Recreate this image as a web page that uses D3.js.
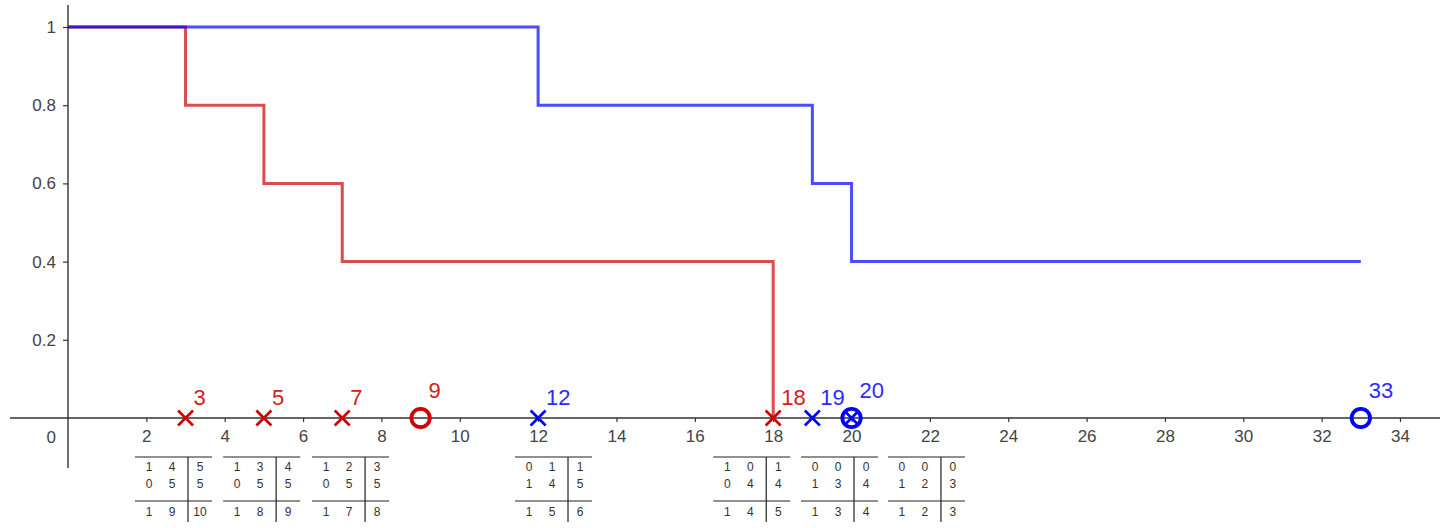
<!DOCTYPE html>
<html><head><meta charset="utf-8">
<script src="https://cdn.jsdelivr.net/npm/d3@7"></script>
<style>html,body{margin:0;padding:0;background:#fff;}svg{display:block;}</style>
</head><body>
<svg id="chart" width="1446" height="528"></svg>
<script>
// ---- data ----
const xTicks = [2,4,6,8,10,12,14,16,18,20,22,24,26,28,30,32,34];
const yTicks = [0.2,0.4,0.6,0.8,1];
const redStepTimes = [0,3,5,7,18];
const redStepSurv = [1,0.8,0.6,0.4,0];
const redEnd = 18;
const blueStepTimes = [0,12,19,20];
const blueStepSurv = [1,0.8,0.6,0.4];
const blueEnd = 33;
const redEvents = [3,5,7,18];
const redCensored = [9];
const blueEvents = [12,19,20];
const blueCensored = [20,33];
const redLabels = [3,5,7,9,18];
const blueLabels = [12,19,20,33];
const tableTimes = [3,5,7,12,18,19,20];
const tableValues = [
  [[1,4,5],[0,5,5],[1,9,10]],
  [[1,3,4],[0,5,5],[1,8,9]],
  [[1,2,3],[0,5,5],[1,7,8]],
  [[0,1,1],[1,4,5],[1,5,6]],
  [[1,0,1],[0,4,4],[1,4,5]],
  [[0,0,0],[1,3,4],[1,3,4]],
  [[0,0,0],[1,2,3],[1,2,3]]
];

// ---- layout ----
const svg = d3.select("#chart");
const x = d3.scaleLinear().domain([0,34]).range([68, 1400]);
const y = d3.scaleLinear().domain([0,1]).range([418, 27]);
const RED = "rgba(204,0,0,0.7)", BLUE = "rgba(0,0,255,0.7)";
const RED_T = "#d42020", BLUE_T = "#2b2bff";
const AX = "#333";
const font = "Liberation Sans, Arial, sans-serif";
// table left edges in data units (layout)
const tableLeft = [1.71, 3.96, 6.23, 11.41, 16.47, 18.71, 20.93];

// axes lines
svg.append("line").attr("x1",10).attr("x2",1440).attr("y1",y(0)).attr("y2",y(0))
  .attr("stroke",AX).attr("stroke-width",1.4);
svg.append("line").attr("x1",x(0)).attr("x2",x(0)).attr("y1",5).attr("y2",468)
  .attr("stroke",AX).attr("stroke-width",1.4);

// x axis ticks
const xAxis = d3.axisBottom(x).tickValues(xTicks).tickSize(4).tickPadding(8).tickFormat(d3.format("d"));
const gx = svg.append("g").attr("transform",`translate(0,${y(0)})`).call(xAxis);
gx.select(".domain").remove();
gx.selectAll(".tick line").attr("stroke",AX).attr("stroke-width",1.2);
gx.selectAll(".tick text").attr("fill","#444").style("font-family",font).style("font-size","17px");

const yAxis = d3.axisLeft(y).tickValues(yTicks).tickSize(5).tickPadding(7).tickFormat(d => d3.format("")(d));
const gy = svg.append("g").attr("transform",`translate(${x(0)},0)`).call(yAxis);
gy.select(".domain").remove();
gy.selectAll(".tick line").attr("stroke",AX).attr("stroke-width",1.2);
gy.selectAll(".tick text").attr("fill","#444").style("font-family",font).style("font-size","17px");

svg.append("text").attr("x",x(0)-12).attr("y",y(0)+25).attr("text-anchor","end")
  .attr("fill","#444").style("font-family",font).style("font-size","17px").text("0");

// step lines
const line = d3.line().x(d=>x(d[0])).y(d=>y(d[1])).curve(d3.curveStepAfter);
function stepPts(times, surv, end){
  const pts = times.map((t,i)=>[t,surv[i]]);
  pts.push([end, surv[surv.length-1]]);
  return pts;
}
svg.append("path").datum(stepPts(redStepTimes,redStepSurv,redEnd)).attr("d",line)
  .attr("fill","none").attr("stroke",RED).attr("stroke-width",3);
svg.append("path").datum(stepPts(blueStepTimes,blueStepSurv,blueEnd)).attr("d",line)
  .attr("fill","none").attr("stroke",BLUE).attr("stroke-width",3);

// markers
function crosses(data, color){
  const g = svg.append("g");
  data.forEach(t=>{
    const cx = x(t), cy = y(0), s = 7.5;
    g.append("line").attr("x1",cx-s).attr("y1",cy-s).attr("x2",cx+s).attr("y2",cy+s)
      .attr("stroke",color).attr("stroke-width",2.6);
    g.append("line").attr("x1",cx-s).attr("y1",cy+s).attr("x2",cx+s).attr("y2",cy-s)
      .attr("stroke",color).attr("stroke-width",2.6);
  });
}
function circles(data, color){
  svg.append("g").selectAll("circle").data(data).join("circle")
    .attr("cx",d=>x(d)).attr("cy",y(0)).attr("r",9.2)
    .attr("fill","none").attr("stroke",color).attr("stroke-width",3.8);
}
crosses(redEvents, "#d00000");
circles(redCensored, "#d00000");
crosses(blueEvents, "#0000ff");
circles(blueCensored, "#0000ff");

function labels(data, censored, color){
  svg.append("g").selectAll("text").data(data).join("text")
    .attr("x",d=>x(d)+8).attr("y",d=>y(0)+(censored.includes(d)?-20:-13))
    .attr("fill",color).style("font-family",font).style("font-size","22px").text(d=>d);
}
labels(redLabels, redCensored, RED_T);
labels(blueLabels, blueCensored, BLUE_T);

// tables
const tw = 77;
tableTimes.forEach((t,i)=>{
  const g = svg.append("g").attr("transform",`translate(${x(tableLeft[i])},0)`);
  g.append("line").attr("x1",0).attr("x2",tw).attr("y1",457).attr("y2",457).attr("stroke","#222").attr("stroke-width",1.2);
  g.append("line").attr("x1",0).attr("x2",tw).attr("y1",501).attr("y2",501).attr("stroke","#222").attr("stroke-width",1.2);
  g.append("line").attr("x1",53).attr("x2",53).attr("y1",457).attr("y2",522).attr("stroke","#222").attr("stroke-width",1.2);
  const colX = [14, 37, 65], rowY = [471, 488, 516];
  tableValues[i].forEach((row,r)=>row.forEach((v,c)=>{
    g.append("text").attr("x",colX[c]).attr("y",rowY[r]).attr("text-anchor","middle")
      .attr("fill","#333").style("font-family",font).style("font-size","12px").text(v);
  }));
});
</script>
</body></html>
